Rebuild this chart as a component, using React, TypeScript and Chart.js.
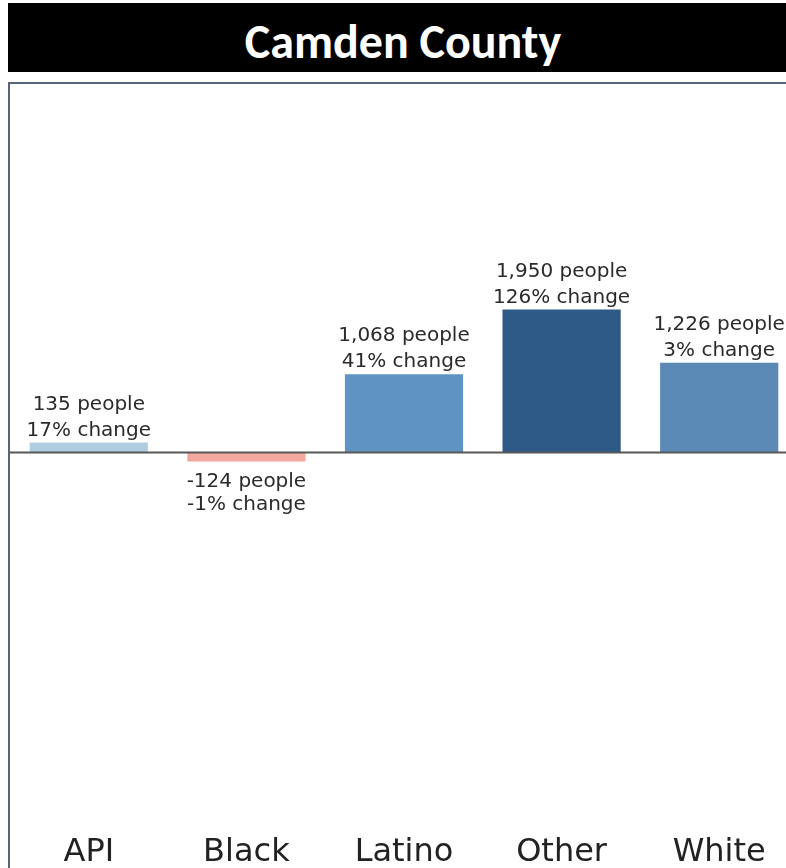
import React, { useEffect, useRef } from "react";
import { Chart, registerables } from "chart.js";

Chart.register(...registerables);

const chartTitle = "Camden County";
const categories = ["API", "Black", "Latino", "Other", "White"];
const peopleChange = [135, -124, 1068, 1950, 1226];
const percentChange = [17, -1, 41, 126, 3];
const barColors = ["#b1cde2", "#f4a99e", "#5f93c1", "#2d5a86", "#5b8ab6"];
const yMin = -5000;
const yMax = 5000;

const labelFont = "20px 'DejaVu Sans', sans-serif";

const barLabelPlugin = {
  id: "barLabels",
  afterDatasetsDraw(chart: any) {
    const { ctx } = chart;
    const meta = chart.getDatasetMeta(0);
    ctx.save();
    ctx.font = labelFont;
    ctx.fillStyle = "#2a2a2a";
    ctx.textAlign = "center";
    ctx.textBaseline = "alphabetic";
    meta.data.forEach((el: any, i: number) => {
      const v = peopleChange[i];
      const l1 = `${v.toLocaleString("en-US")} people`;
      const l2 = `${percentChange[i]}% change`;
      if (v >= 0) {
        ctx.fillText(l2, el.x, el.y - 7);
        ctx.fillText(l1, el.x, el.y - 33);
      } else {
        ctx.fillText(l1, el.x, el.y + 25);
        ctx.fillText(l2, el.x, el.y + 48);
      }
    });
    ctx.restore();
  },
};

const zeroLinePlugin = {
  id: "zeroLine",
  afterDatasetsDraw(chart: any) {
    const { ctx, chartArea } = chart;
    const y = chart.scales.y.getPixelForValue(0);
    ctx.save();
    ctx.strokeStyle = "#585858";
    ctx.lineWidth = 2;
    ctx.beginPath();
    ctx.moveTo(0, y);
    ctx.lineTo(chartArea.right + 10, y);
    ctx.stroke();
    ctx.restore();
  },
};

export default function App() {
  const canvasRef = useRef<HTMLCanvasElement | null>(null);

  useEffect(() => {
    if (!canvasRef.current) return;
    const chart = new Chart(canvasRef.current, {
      type: "bar",
      data: {
        labels: categories,
        datasets: [
          {
            data: peopleChange,
            backgroundColor: barColors,
            borderWidth: 0,
            barPercentage: 0.75,
            categoryPercentage: 1,
          },
        ],
      },
      options: {
        animation: false,
        responsive: true,
        maintainAspectRatio: false,
        layout: { padding: 0 },
        plugins: {
          legend: { display: false },
          tooltip: { enabled: false },
          title: { display: false },
        },
        scales: {
          x: {
            grid: { display: false, drawTicks: false },
            border: { display: false },
            afterFit: (scale: any) => {
              scale.height = 50;
            },
            ticks: {
              color: "#222222",
              padding: 14,
              font: { family: "'DejaVu Sans', sans-serif", size: 32 },
              maxRotation: 0,
            },
          },
          y: {
            display: false,
            min: yMin,
            max: yMax,
          },
        },
      },
      plugins: [barLabelPlugin, zeroLinePlugin],
    });
    return () => chart.destroy();
  }, []);

  return (
    <div
      style={{
        position: "fixed",
        left: 0,
        top: 0,
        width: 786,
        height: 868,
        overflow: "hidden",
        background: "#ffffff",
      }}
    >
      <div
        style={{
          position: "absolute",
          left: 8,
          top: 3,
          width: 790,
          height: 69,
          overflow: "hidden",
          background: "#000000",
          color: "#ffffff",
          fontFamily: "Carlito, 'Liberation Sans Narrow', 'DejaVu Sans Condensed', sans-serif",
          fontWeight: "bold",
          fontSize: 48,
          lineHeight: "78px",
          textAlign: "center",
        }}
      >
        {chartTitle}
      </div>
      <div
        style={{
          position: "absolute",
          left: 8,
          top: 82,
          width: 800,
          height: 900,
          borderLeft: "2px solid #56657a",
          borderTop: "2px solid #56657a",
          boxSizing: "border-box",
        }}
      />
      <div
        style={{
          position: "absolute",
          left: 10,
          top: 86,
          width: 788,
          height: 783,
        }}
      >
        <canvas ref={canvasRef} />
      </div>
    </div>
  );
}
